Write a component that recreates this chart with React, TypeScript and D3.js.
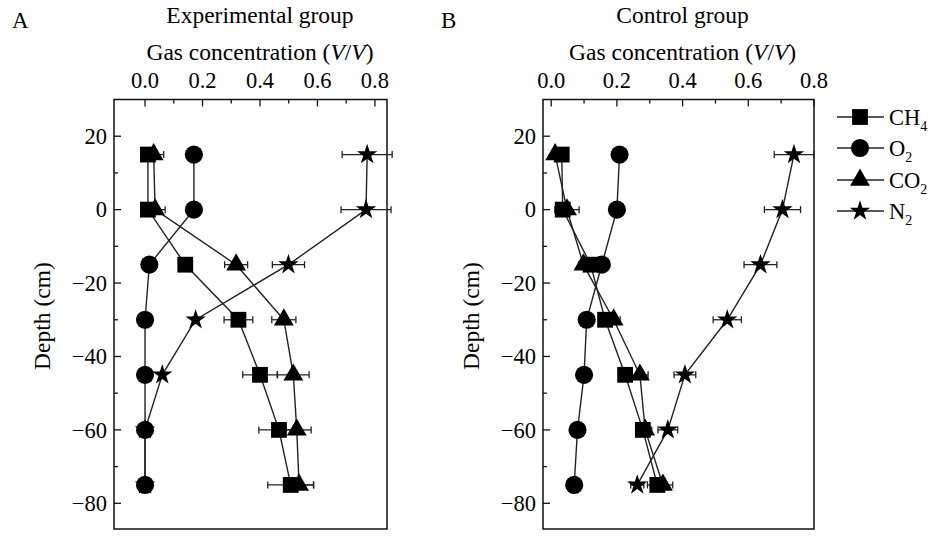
import { useEffect, useRef } from "react";
import * as d3 from "d3";

const depths = [15, 0, -15, -30, -45, -60, -75];

// Experimental group (A)
const expCH4 = [0.01, 0.01, 0.14, 0.325, 0.4, 0.466, 0.507];
const expO2 = [0.17, 0.17, 0.015, 0.0, 0.0, 0.0, 0.0];
const expCO2 = [0.03, 0.035, 0.317, 0.483, 0.516, 0.528, 0.536];
const expN2 = [0.773, 0.769, 0.499, 0.176, 0.06, 0.0, 0.0];
const expCH4Err = [0, 0, 0, 0.05, 0.06, 0.07, 0.08];
const expO2Err = [0, 0, 0, 0, 0, 0, 0];
const expCO2Err = [0.035, 0.035, 0.04, 0.042, 0.055, 0.05, 0.05];
const expN2Err = [0.087, 0.087, 0.056, 0.01, 0, 0, 0];

// Control group (B)
const ctlCH4 = [0.032, 0.035, 0.12, 0.164, 0.225, 0.279, 0.323];
const ctlO2 = [0.208, 0.2, 0.154, 0.108, 0.1, 0.08, 0.07];
const ctlCO2 = [0.012, 0.048, 0.098, 0.19, 0.27, 0.286, 0.34];
const ctlN2 = [0.739, 0.704, 0.637, 0.536, 0.407, 0.355, 0.262];
const ctlCH4Err = [0.01, 0.01, 0.01, 0.02, 0.02, 0.02, 0.03];
const ctlO2Err = [0, 0, 0, 0, 0, 0, 0];
const ctlCO2Err = [0.01, 0.037, 0.015, 0.02, 0.025, 0.02, 0.03];
const ctlN2Err = [0.06, 0.055, 0.05, 0.043, 0.033, 0.03, 0.02];

const xTicks = [0, 0.2, 0.4, 0.6, 0.8];
const yTicks = [20, 0, -20, -40, -60, -80];
const gasNames = ["CH", "O", "CO", "N"];
const gasSubs = ["4", "2", "2", "2"];

const FONT = "Liberation Serif, Times New Roman, DejaVu Serif, serif";

type Gas = "square" | "circle" | "triangle" | "star";

function symbolPath(kind: Gas) {
  if (kind === "square") return d3.symbol(d3.symbolSquare, 250)();
  if (kind === "circle") return d3.symbol(d3.symbolCircle, 260)();
  if (kind === "triangle") return d3.symbol(d3.symbolTriangle, 170)();
  return d3.symbol(d3.symbolStar, 130)();
}

export default function App() {
  const ref = useRef<SVGSVGElement | null>(null);

  useEffect(() => {
    if (!ref.current) return;
    const svg = d3.select(ref.current);
    svg.selectAll("*").remove();

    const root = svg.append("g").attr("font-family", FONT).attr("fill", "#000");

    const top = 99.5;
    const bottom = 529;

    const panels = [
      {
        letter: "A",
        letterX: 12,
        title: "Experimental group",
        left: 114,
        right: 387,
        xDomain: [-0.108, 0.842],
        labelX: 50,
        series: [
          { kind: "star" as Gas, v: expN2, e: expN2Err },
          { kind: "square" as Gas, v: expCH4, e: expCH4Err },
          { kind: "triangle" as Gas, v: expCO2, e: expCO2Err },
          { kind: "circle" as Gas, v: expO2, e: expO2Err },
        ],
      },
      {
        letter: "B",
        letterX: 441,
        title: "Control group",
        left: 543,
        right: 814,
        xDomain: [-0.025, 0.8],
        labelX: 479,
        series: [
          { kind: "star" as Gas, v: ctlN2, e: ctlN2Err },
          { kind: "square" as Gas, v: ctlCH4, e: ctlCH4Err },
          { kind: "triangle" as Gas, v: ctlCO2, e: ctlCO2Err },
          { kind: "circle" as Gas, v: ctlO2, e: ctlO2Err },
        ],
      },
    ];

    const y = d3.scaleLinear().domain([30, -87]).range([top, bottom]);

    panels.forEach((p) => {
      const x = d3.scaleLinear().domain(p.xDomain).range([p.left, p.right]);
      const g = root.append("g");
      const cx = (x(0) + x(0.8)) / 2;

      /* ---------------- TEXT ---------------- */
      g.append("text")
        .attr("x", p.letterX)
        .attr("y", 28)
        .attr("font-size", 23)
        .text(p.letter);
      g.append("text")
        .attr("x", cx)
        .attr("y", 23)
        .attr("text-anchor", "middle")
        .attr("font-size", 23.5)
        .text(p.title);
      const sub = g.append("text")
        .attr("x", cx)
        .attr("y", 60)
        .attr("text-anchor", "middle")
        .attr("font-size", 23.5);
      sub.append("tspan").text("Gas concentration (");
      sub.append("tspan").attr("font-style", "italic").text("V");
      sub.append("tspan").text("/");
      sub.append("tspan").attr("font-style", "italic").text("V");
      sub.append("tspan").text(")");

      g.append("text")
        .attr("transform", `translate(${p.labelX},${y(-29)}) rotate(-90)`)
        .attr("text-anchor", "middle")
        .attr("font-size", 23.5)
        .text("Depth (cm)");

      /* ---------------- AXES ---------------- */
      g.append("rect")
        .attr("x", p.left)
        .attr("y", top)
        .attr("width", p.right - p.left)
        .attr("height", bottom - top)
        .attr("fill", "none")
        .attr("stroke", "#111")
        .attr("stroke-width", 1.5);

      const xMinor = d3.range(0, 0.81, 0.1);
      g.selectAll(".xt")
        .data(xMinor)
        .enter()
        .append("line")
        .attr("x1", (d) => x(d))
        .attr("x2", (d) => x(d))
        .attr("y1", top)
        .attr("y2", (_, i) => top + (i % 2 === 0 ? 7 : 4))
        .attr("stroke", "#111")
        .attr("stroke-width", 1.3);

      g.selectAll(".xl")
        .data(xTicks)
        .enter()
        .append("text")
        .attr("x", (d) => x(d))
        .attr("y", 88)
        .attr("text-anchor", "middle")
        .attr("font-size", 22.5)
        .text((d) => d3.format(".1f")(d));

      const yMinor = d3.range(-80, 21, 10);
      g.selectAll(".yt")
        .data(yMinor)
        .enter()
        .append("line")
        .attr("x1", p.left)
        .attr("x2", (d) => p.left + (d % 20 === 0 ? 7 : 4))
        .attr("y1", (d) => y(d))
        .attr("y2", (d) => y(d))
        .attr("stroke", "#111")
        .attr("stroke-width", 1.3);

      g.selectAll(".yl")
        .data(yTicks)
        .enter()
        .append("text")
        .attr("x", p.left - 7)
        .attr("y", (d) => y(d))
        .attr("dy", "0.34em")
        .attr("text-anchor", "end")
        .attr("font-size", 22.5)
        .text((d) => (d < 0 ? "\u2212" + Math.abs(d) : String(d)));

      /* ---------------- SERIES ---------------- */
      const line = d3
        .line<number>()
        .x((d) => x(d))
        .y((_, i) => y(depths[i]));

      p.series.forEach((s) => {
        g.append("path")
          .datum(s.v)
          .attr("d", line)
          .attr("fill", "none")
          .attr("stroke", "#222")
          .attr("stroke-width", 1.4);
      });

      p.series.forEach((s) => {
        const eg = g.append("g");
        s.v.forEach((v, i) => {
          const e = s.e[i];
          if (!e) return;
          const yy = y(depths[i]);
          eg.append("line")
            .attr("x1", x(v - e))
            .attr("x2", x(v + e))
            .attr("y1", yy)
            .attr("y2", yy)
            .attr("stroke", "#222")
            .attr("stroke-width", 1.3);
          [v - e, v + e].forEach((c) => {
            eg.append("line")
              .attr("x1", x(c))
              .attr("x2", x(c))
              .attr("y1", yy - 3.5)
              .attr("y2", yy + 3.5)
              .attr("stroke", "#222")
              .attr("stroke-width", 1.3);
          });
        });
      });

      p.series.forEach((s) => {
        g.selectAll(null)
          .data(s.v)
          .enter()
          .append("path")
          .attr("d", symbolPath(s.kind))
          .attr("transform", (d, i) => `translate(${x(d)},${y(depths[i])})`)
          .attr("fill", "#000");
      });
    });

    /* ---------------- LEGEND ---------------- */
    const kinds: Gas[] = ["square", "circle", "triangle", "star"];
    const legY = [117, 148, 180, 211];
    const lg = root.append("g");
    kinds.forEach((k, i) => {
      lg.append("line")
        .attr("x1", 837)
        .attr("x2", 884)
        .attr("y1", legY[i])
        .attr("y2", legY[i])
        .attr("stroke", "#222")
        .attr("stroke-width", 1.4);
      lg.append("path")
        .attr("d", symbolPath(k))
        .attr("transform", `translate(860,${legY[i]})`)
        .attr("fill", "#000");
      const t = lg.append("text")
        .attr("x", 889)
        .attr("y", legY[i] + 8)
        .attr("font-size", 22.5);
      t.append("tspan").text(gasNames[i]);
      t.append("tspan").attr("font-size", 14).attr("dy", 6).text(gasSubs[i]);
    });
  }, []);

  return (
    <svg
      ref={ref}
      width={932}
      height={538}
      style={{
        position: "absolute",
        left: 0,
        top: 0,
        background: "#fff",
      }}
    />
  );
}
